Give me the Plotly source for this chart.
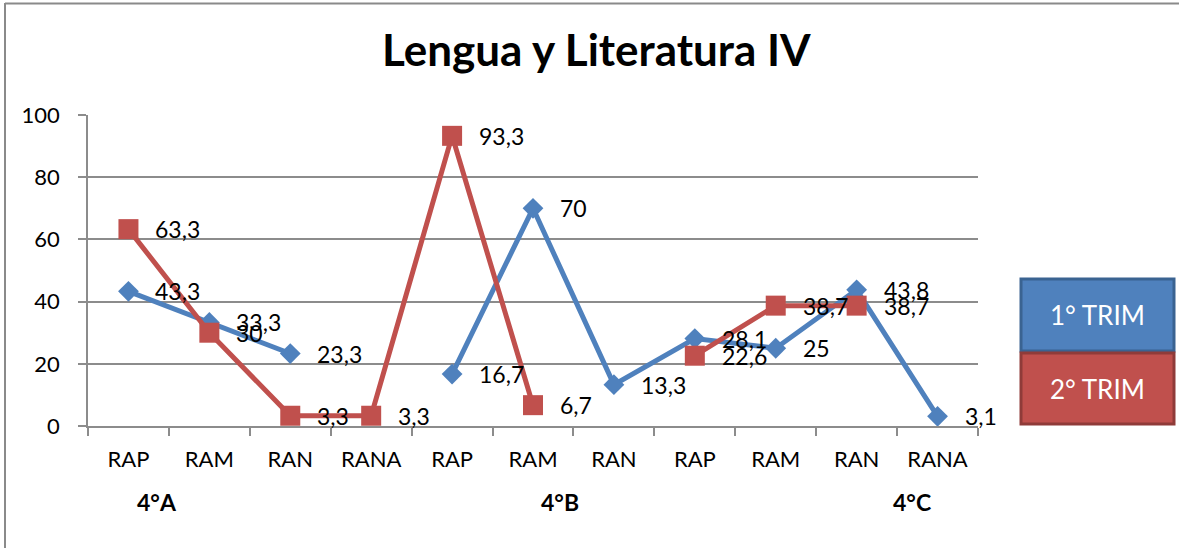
import plotly.graph_objects as go

# Categories along the x axis (three groups of levels)
categories = ["RAP", "RAM", "RAN", "RANA", "RAP", "RAM", "RAN", "RAP", "RAM", "RAN", "RANA"]
groups = ["4°A", "4°B", "4°C"]
group_pos = [0.35, 5.33, 9.69]

# Percent values per trimester (None = no data)
trim1 = [43.3, 33.3, 23.3, None, 16.7, 70, 13.3, 28.1, 25, 43.8, 3.1]
trim2 = [63.3, 30, 3.3, 3.3, 93.3, 6.7, None, 22.6, 38.7, 38.7, None]
series_names = ["1° TRIM", "2° TRIM"]

yticks = [0, 20, 40, 60, 80, 100]

BLUE = "#4F81BD"
RED = "#C0504D"
BLUE_DARK = "#3A6391"
RED_DARK = "#8F3B39"
GRID = "#8C8C8C"
FONT = "Lato"

W, H = 1179, 548
PX0, PX1, PY0, PY1 = 88, 978, 115, 426  # plot area in pixels


def fx(p):
    return (p - PX0) / (PX1 - PX0)


def fy(p):
    return (PY1 - p) / (PY1 - PY0)


xs = list(range(len(categories)))

fig = go.Figure()
fig.add_trace(go.Scatter(
    x=xs, y=trim1, mode="lines+markers", name=series_names[0],
    line=dict(color=BLUE, width=5),
    marker=dict(symbol="diamond", size=16, color=BLUE),
    connectgaps=False, showlegend=False,
))
fig.add_trace(go.Scatter(
    x=xs, y=trim2, mode="lines+markers", name=series_names[1],
    line=dict(color=RED, width=5),
    marker=dict(symbol="square", size=20, color=RED),
    connectgaps=False, showlegend=False,
))


def fmt(v):
    return (f"{v:g}").replace(".", ",")


annotations = []
for series in (trim1, trim2):
    for x, v in zip(xs, series):
        if v is None:
            continue
        annotations.append(dict(
            x=x, y=v, xref="x", yref="y", text=fmt(v), showarrow=False,
            xanchor="left", yanchor="middle", xshift=25,
            font=dict(family=FONT, size=23, color="black"),
        ))

# Group labels under the category labels
for g, gx in zip(groups, group_pos):
    annotations.append(dict(
        x=gx, y=fy(502), xref="x", yref="paper", text=f"<b>{g}</b>",
        showarrow=False, xanchor="center", yanchor="middle",
        font=dict(family=FONT, size=23, color="black"),
    ))

# Title
annotations.append(dict(
    x=fx(596), y=fy(49), xref="paper", yref="paper",
    text="<b>Lengua y Literatura IV</b>", showarrow=False,
    xanchor="center", yanchor="middle",
    font=dict(family=FONT, size=44, color="black"),
))

shapes = []
# Chart frame (left and top edges)
shapes.append(dict(type="line", xref="paper", yref="paper",
                   x0=fx(5), x1=fx(5), y0=fy(3), y1=fy(560),
                   line=dict(color="#8A8A8A", width=2)))
shapes.append(dict(type="line", xref="paper", yref="paper",
                   x0=fx(5), x1=fx(1185), y0=fy(3.5), y1=fy(3.5),
                   line=dict(color="#8A8A8A", width=2)))

# Legend boxes
legend_boxes = [
    (series_names[0], BLUE, BLUE_DARK, 279, 351),
    (series_names[1], RED, RED_DARK, 353, 424),
]
for name, fill, border, top, bottom in legend_boxes:
    shapes.append(dict(type="rect", xref="paper", yref="paper",
                       x0=fx(1021), x1=fx(1174), y0=fy(top), y1=fy(bottom),
                       fillcolor=fill, line=dict(color=border, width=3)))
    annotations.append(dict(
        x=fx(1097), y=fy((top + bottom) / 2), xref="paper", yref="paper",
        text=name, showarrow=False, xanchor="center", yanchor="middle",
        font=dict(family=FONT, size=26, color="white"),
    ))

fig.update_layout(
    width=W, height=H,
    margin=dict(l=PX0, r=W - PX1, t=PY0, b=H - PY1),
    paper_bgcolor="white", plot_bgcolor="white",
    font=dict(family=FONT, size=22, color="black"),
    annotations=annotations, shapes=shapes,
)
fig.update_xaxes(
    range=[-0.5, len(categories) - 0.5],
    tickmode="array", tickvals=xs, ticktext=categories,
    ticks="", showgrid=False, zeroline=False,
    showline=True, linecolor=GRID, linewidth=1.5,
    tickfont=dict(family=FONT, size=22, color="black"),
    ticklabelstandoff=13,
    minor=dict(tick0=-0.5, dtick=1, ticks="outside", ticklen=8,
               tickcolor=GRID, tickwidth=1.5, showgrid=False),
)
fig.update_yaxes(
    range=[0, 100], tickmode="array", tickvals=yticks,
    ticks="outside", ticklen=8, tickcolor=GRID, tickwidth=1.5,
    showgrid=True, gridcolor=GRID, gridwidth=1.5, zeroline=False,
    showline=True, linecolor=GRID, linewidth=1.5,
    tickfont=dict(family=FONT, size=22, color="black"),
    ticklabelstandoff=14,
)

fig.write_html("out.html")
